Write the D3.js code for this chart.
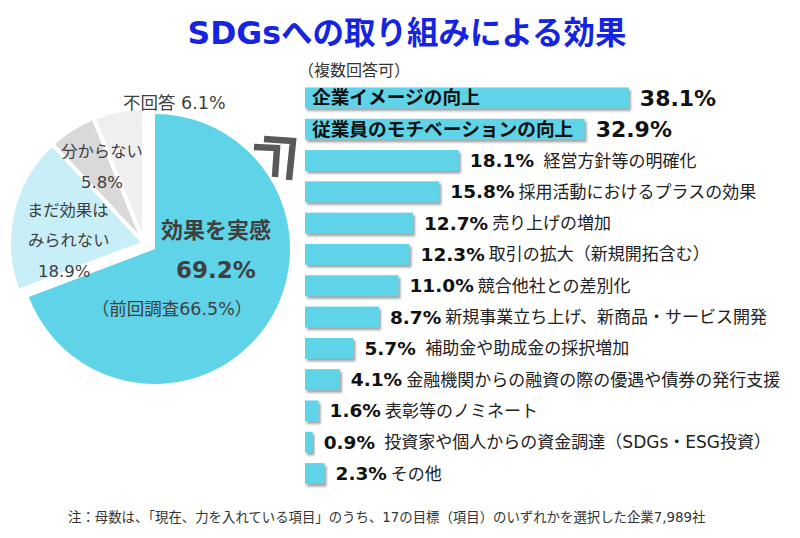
<!DOCTYPE html>
<html><head><meta charset="utf-8">
<script src="https://cdn.jsdelivr.net/npm/d3@7"></script>
<style>
html,body{margin:0;padding:0;background:#fff;}
svg{display:block;font-family:"DejaVu Sans","Noto Sans CJK JP",sans-serif;}
</style></head>
<body><svg id="c" width="800" height="538"></svg>
<script>
const title = "SDGsへの取り組みによる効果";
const note = "注：母数は、「現在、力を入れている項目」のうち、17の目標（項目）のいずれかを選択した企業7,989社";
const multiNote = "（複数回答可）";

const categories = [
  "企業イメージの向上",
  "従業員のモチベーションの向上",
  " 経営方針等の明確化",
  "採用活動におけるプラスの効果",
  "売り上げの増加",
  "取引の拡大（新規開拓含む）",
  "競合他社との差別化",
  "新規事業立ち上げ、新商品・サービス開発",
  " 補助金や助成金の採択増加",
  "金融機関からの融資の際の優遇や債券の発行支援",
  "表彰等のノミネート",
  " 投資家や個人からの資金調達（SDGs・ESG投資）",
  "その他"
];
const values = [38.1, 32.9, 18.1, 15.8, 12.7, 12.3, 11.0, 8.7, 5.7, 4.1, 1.6, 0.9, 2.3];

const pieNames = ["効果を実感", "まだ効果はみられない", "分からない", "不回答"];
const pieValues = [69.2, 18.9, 5.8, 6.1];
const pieColors = ["#5fd3e8", "#c8eef7", "#d9d9d9", "#efefef"];
const previous = "（前回調査66.5%）";

const svg = d3.select("#c");
const defs = svg.append("defs");
const f = defs.append("filter").attr("id","sh").attr("x","-10%").attr("y","-20%").attr("width","130%").attr("height","160%");
f.append("feDropShadow").attr("dx",2).attr("dy",2.5).attr("stdDeviation",1.3)
  .attr("flood-color","#7a7a7a").attr("flood-opacity",0.7);

// Title
svg.append("text").attr("x",407).attr("y",44).attr("text-anchor","middle")
  .attr("font-size",31.5).attr("font-weight","bold").attr("fill","#1424e0").text(title);

// ---- Pie ----
const pie = d3.pie().sort(null).value(d => d)(pieValues);
const arc = d3.arc().innerRadius(0).outerRadius(135);
const pg = svg.append("g");
pie.forEach((d,i) => {
  const g = pg.append("g").attr("transform", i === 0 ? "translate(155,249)" : "translate(144,243)");
  g.append("path").attr("d", arc(d)).attr("fill", pieColors[i])
    .attr("stroke", i === 0 ? "none" : "#fff").attr("stroke-width", 4).attr("stroke-linejoin","miter");
});
const lab = (x,y,t,size,weight,anchor) => svg.append("text").attr("x",x).attr("y",y)
  .attr("font-size",size).attr("font-weight",weight||"normal").attr("fill","#3f3f3f")
  .attr("text-anchor",anchor||"start").text(t);
lab(216,238,pieNames[0],22,"bold","middle");
lab(216,278,d3.format(".1f")(pieValues[0])+"%",23,"bold","middle");
lab(172,315,previous,17.5,"normal","middle");
lab(27,216,pieNames[1].slice(0,5),16.3);
lab(28,246,pieNames[1].slice(5),16.3);
lab(38,277,pieValues[1].toFixed(1)+"%",16.5);
lab(102,157,pieNames[2],16.3,"normal","middle");
lab(102,188,pieValues[2].toFixed(1)+"%",16.5,"normal","middle");
lab(123,109,pieNames[3]+" "+pieValues[3].toFixed(1)+"%",17.5);

// Chevron icon
const ch = svg.append("g").attr("fill","none").attr("stroke","#595959").attr("stroke-width",6.5)
  .attr("stroke-linejoin","miter").attr("stroke-miterlimit",10);
ch.append("path").attr("d","M254,147 L277,148 L275,177");
ch.append("path").attr("d","M264,139 L293,141 L289,180");

// ---- Bars ----
const x = d3.scaleLinear().domain([0,40]).range([305,645]);
const y = d3.scaleBand().domain(categories).range([82.3,489.2]).paddingInner(0.33).paddingOuter(0.165);

svg.append("text").attr("x",298).attr("y",76).attr("font-size",16).attr("fill","#333").text(multiNote);

const bg = svg.append("g");
categories.forEach((c,i) => {
  const v = values[i];
  const yc = y(c) + y.bandwidth()/2;
  bg.append("rect").attr("x",x(0)).attr("y",y(c)).attr("width",x(v)-x(0)).attr("height",y.bandwidth())
    .attr("fill","#5fd3e8").attr("filter","url(#sh)");
  const big = i < 2;
  const vt = bg.append("text").attr("x",x(v)+11).attr("y",yc+(big?8:6.5))
    .attr("font-size",big?22:18.5).attr("font-weight","bold").attr("fill","#111")
    .text(v.toFixed(1)+"%");
  if (big) {
    bg.append("text").attr("x",x(0)+7).attr("y",yc+6.5).attr("font-size",18.7).attr("font-weight","bold")
      .attr("fill","#111").text(c);
  } else {
    const w = vt.node().getComputedTextLength();
    bg.append("text").attr("x",x(v)+11+w+4).attr("y",yc+6)
      .attr("font-size",17).attr("fill","#222").attr("xml:space","preserve")
      .style("white-space","pre").text(c);
  }
});

// Footnote
svg.append("text").attr("x",68).attr("y",522).attr("font-size",13.4).attr("fill","#333").text(note);
</script></body></html>
